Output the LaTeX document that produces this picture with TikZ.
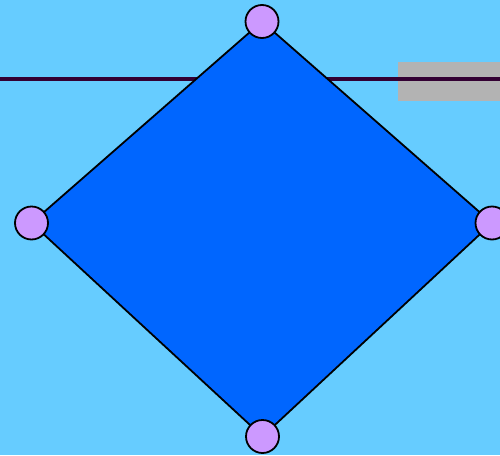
\documentclass[tikz,border=0pt]{standalone}
\definecolor{bgblue}{HTML}{66CCFF}
\definecolor{diamblue}{HTML}{0066FF}
\definecolor{lav}{HTML}{CC99FF}
\definecolor{linepurple}{HTML}{330033}
\definecolor{graybox}{HTML}{B3B3B3}
\begin{document}
\begin{tikzpicture}[x=1pt,y=-1pt,
  vert/.style={circle,draw=black,line width=1.8pt,fill=lav,minimum size=33pt,inner sep=0pt}]
\fill[bgblue] (0,0) rectangle (500,455);
\useasboundingbox (0,0) rectangle (500,455);
\fill[graybox] (398,62) rectangle (500,101);
\coordinate (l0) at (0,79);
\coordinate (l1) at (500,79);
\draw[linepurple,line width=4pt] (l0) -- (l1);
\coordinate (t) at (262,21.5);
\coordinate (l) at (31.5,223);
\coordinate (r) at (492,223);
\coordinate (b) at (262.5,436.5);
\draw[black,line width=1.8pt,fill=diamblue,line join=miter] (t) -- (r) -- (b) -- (l) -- cycle;
\node[vert] (nt) at (t) {};
\node[vert] (nl) at (l) {};
\node[vert] (nr) at (r) {};
\node[vert] (nb) at (b) {};
\end{tikzpicture}
\end{document}
